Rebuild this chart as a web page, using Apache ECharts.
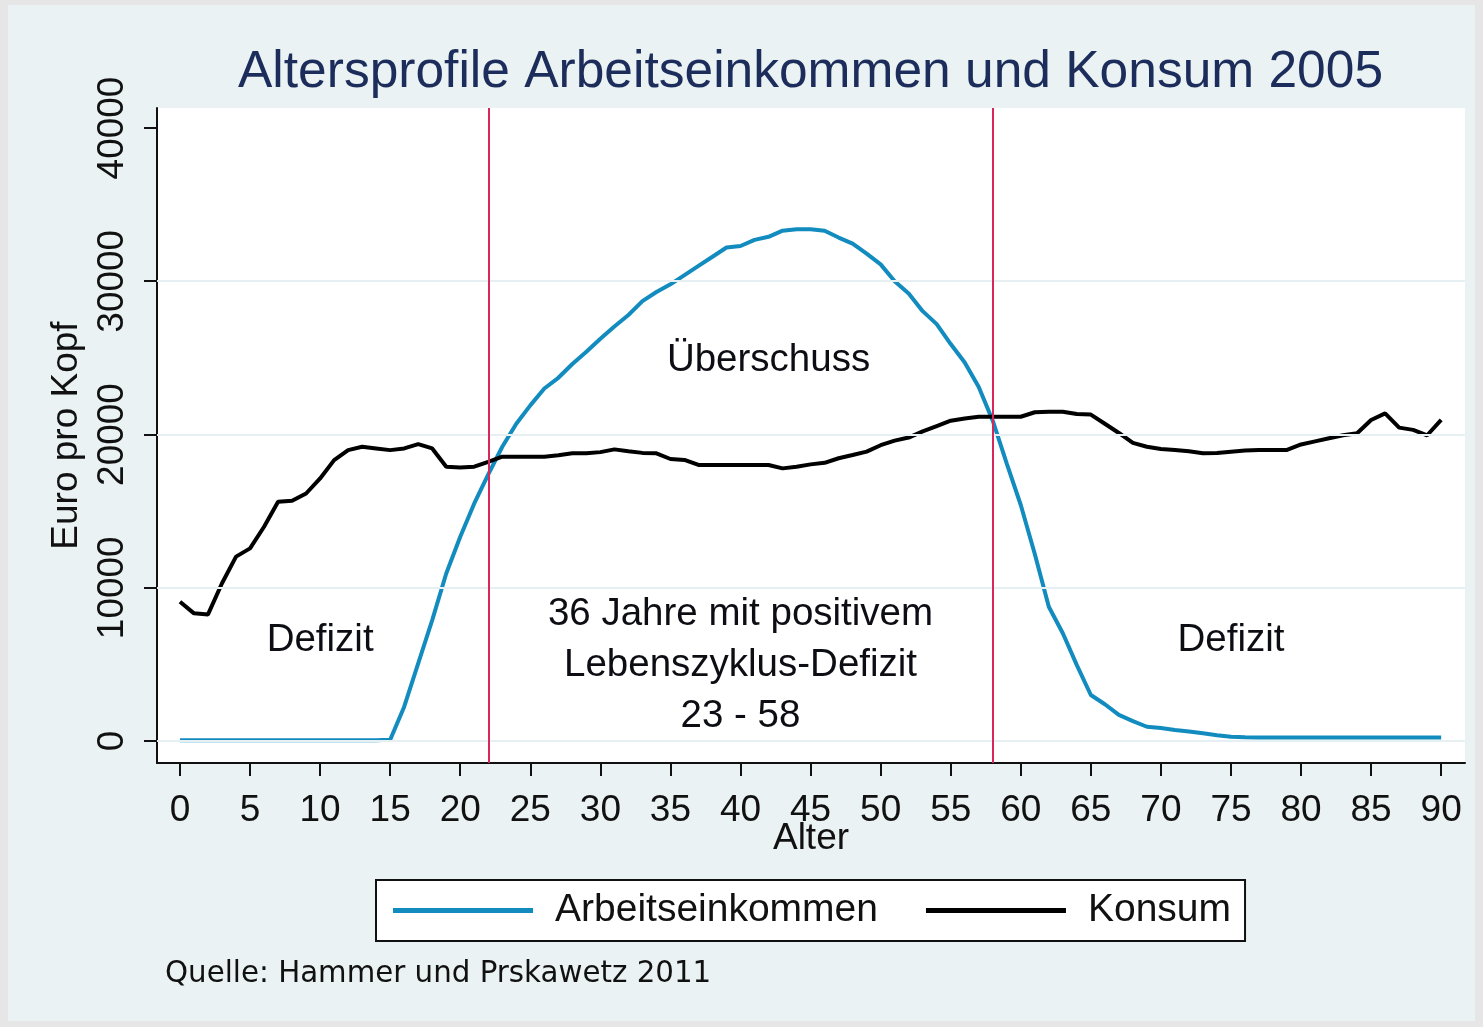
<!DOCTYPE html>
<html>
<head>
<meta charset="utf-8">
<script src="https://cdn.jsdelivr.net/npm/echarts@6/dist/echarts.min.js"></script>
<style>
html,body{margin:0;padding:0;background:#e6e6e6;}
#chart{width:1483px;height:1027px;}
</style>
</head>
<body>
<div id="chart"></div>
<script>
// ---- data ----
const ages = [0,1,2,3,4,5,6,7,8,9,10,11,12,13,14,15,16,17,18,19,20,21,22,23,24,25,26,27,28,29,30,31,32,33,34,35,36,37,38,39,40,41,42,43,44,45,46,47,48,49,50,51,52,53,54,55,56,57,58,59,60,61,62,63,64,65,66,67,68,69,70,71,72,73,74,75,76,77,78,79,80,81,82,83,84,85,86,87,88,89,90];

const arbeitseinkommen = [50,50,50,50,50,50,50,50,50,50,50,50,50,50,50,80,2240,5070,7890,10930,13330,15500,17400,19200,20700,21900,23000,23700,24600,25400,26250,27050,27800,28700,29300,29800,30400,31000,31600,32200,32300,32700,32900,33300,33400,33400,33300,32850,32450,31800,31100,30000,29200,28050,27200,25900,24700,23100,20900,18100,15400,12200,8760,7030,4950,3000,2400,1700,1300,930,850,720,620,500,380,280,240,230,230,230,230,230,230,230,230,230,230,230,230,230,230];

const konsum = [9090,8330,8260,10290,12030,12570,13980,15610,15680,16150,17130,18330,18980,19200,19090,18980,19090,19370,19090,17890,17850,17900,18220,18550,18550,18550,18550,18650,18770,18770,18850,19030,18900,18800,18770,18400,18340,18010,18010,18010,18010,18010,18010,17790,17900,18050,18150,18450,18660,18880,19300,19600,19800,20200,20550,20900,21050,21160,21160,21160,21160,21450,21490,21490,21340,21300,20700,20100,19450,19200,19050,18990,18900,18770,18800,18880,18950,18990,18990,18990,19350,19550,19750,19950,20080,20950,21380,20450,20300,19950,20950];

const xTicks = [0,5,10,15,20,25,30,35,40,45,50,55,60,65,70,75,80,85,90];
const yTicks = [0,10000,20000,30000,40000];
const yGrid = [0,10000,20000,30000];
const refLines = [22,58];

const annotationX = [42,10,75,40,40,40];
const annotationY = [24860,6590,6590,8290,4960,1630];
const annotationText = ['Überschuss','Defizit','Defizit','36 Jahre mit positivem','Lebenszyklus-Defizit','23 - 58'];

const titleText = 'Altersprofile Arbeitseinkommen und Konsum 2005';
const noteText = 'Quelle: Hammer und Prskawetz 2011';
const xName = 'Alter';
const yName = 'Euro pro Kopf';
const seriesNames = ['Arbeitseinkommen','Konsum'];

// ---- chart ----
const FONT = "'Liberation Sans', Arial, sans-serif";
const chart = echarts.init(document.getElementById('chart'), null, {renderer:'canvas'});

const lineData = (ys) => ages.map((a,i)=>[a, ys[i]]);
const annData = annotationX.map((x,i)=>[x, annotationY[i], annotationText[i]]);

const option = {
  animation:false,
  backgroundColor:'#e6e6e6',
  graphic:[{
    type:'rect', z:-100, silent:true,
    shape:{x:8,y:5,width:1467,height:1016},
    style:{fill:'#eaf2f3'}
  }],
  title:[{
    text:titleText, left:233, top:42,
    textStyle:{fontFamily:FONT, fontSize:51.5, fontWeight:'normal', color:'#1c2d5c'}
  },{
    text:noteText, left:160, top:955,
    textStyle:{fontFamily:"'DejaVu Sans', sans-serif", fontSize:29.3, fontWeight:'normal', color:'#111'}
  }],
  legend:{
    left:376, top:880,
    data:seriesNames,
    icon:'rect', itemWidth:140, itemHeight:5, itemGap:48,
    padding:[11,14,11,17],
    backgroundColor:'#fff', borderColor:'#111', borderWidth:2, borderRadius:0,
    selectedMode:false,
    textStyle:{fontFamily:FONT, fontSize:39, color:'#111', padding:[0,0,0,17]}
  },
  grid:{left:157, top:108, right:18, bottom:264, show:true, backgroundColor:'#fff', borderWidth:0, containLabel:false, outerBoundsMode:'none'},
  xAxis:{
    type:'value', min:-1.64, max:91.7,
    name:xName, nameLocation:'middle', nameGap:57, nameMoveOverlap:false,
    nameTextStyle:{fontFamily:FONT, fontSize:37, color:'#111'},
    axisLine:{show:true, onZero:false, lineStyle:{color:'#111', width:2}},
    axisTick:{show:true, length:13, lineStyle:{color:'#111', width:2}, customValues:xTicks},
    axisLabel:{fontFamily:FONT, fontSize:37, color:'#111', margin:29, customValues:xTicks, formatter:(v)=>String(v)},
    splitLine:{show:false}
  },
  yAxis:{
    type:'value', min:-1436, max:41305,
    name:yName, nameLocation:'middle', nameGap:72, nameRotate:90, nameMoveOverlap:false,
    nameTextStyle:{fontFamily:FONT, fontSize:37, color:'#111'},
    axisLine:{show:true, onZero:false, lineStyle:{color:'#111', width:2}},
    axisTick:{show:true, length:13, lineStyle:{color:'#111', width:2}, customValues:yTicks},
    axisLabel:{fontFamily:FONT, fontSize:37, color:'#111', margin:26, rotate:90, customValues:yTicks, formatter:(v)=>String(v)},
    splitLine:{show:false}
  },
  series:[{
    type:'scatter', name:'annotations', z:1, silent:true,
    symbolSize:0, data:annData,
    itemStyle:{opacity:1},
    label:{show:true, position:'inside', formatter:(p)=>p.data[2], fontFamily:FONT, fontSize:38.5, color:'#0d0d14', opacity:1},
    markLine:{
      silent:true, symbol:['none','none'], label:{show:false},
      data:[
        ...yGrid.map(v=>({yAxis:v, lineStyle:{color:'#e6eff1', width:2, type:'solid'}})),
        ...refLines.map(v=>({xAxis:v, lineStyle:{color:'#d6285a', width:2, type:'solid'}}))
      ]
    }
  },{
    type:'line', name:seriesNames[0], z:3, data:lineData(arbeitseinkommen),
    showSymbol:false, symbol:'none', lineStyle:{color:'#128bbf', width:4}, itemStyle:{color:'#128bbf'}
  },{
    type:'line', name:seriesNames[1], z:4, data:lineData(konsum),
    showSymbol:false, symbol:'none', lineStyle:{color:'#000', width:4}, itemStyle:{color:'#000'}
  }]
};
chart.setOption(option);
</script>
</body>
</html>
